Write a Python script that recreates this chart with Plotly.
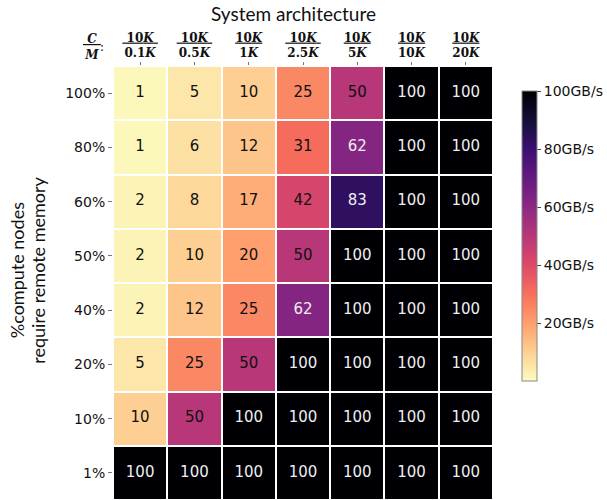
import plotly.graph_objects as go

# ---- data ----
numerators = ["10", "10", "10", "10", "10", "10", "10"]
denominators = ["0.1", "0.5", "1", "2.5", "5", "10", "20"]
row_labels = ["100%", "80%", "60%", "50%", "40%", "20%", "10%", "1%"]
bandwidth = [
    [1, 5, 10, 25, 50, 100, 100],
    [1, 6, 12, 31, 62, 100, 100],
    [2, 8, 17, 42, 83, 100, 100],
    [2, 10, 20, 50, 100, 100, 100],
    [2, 12, 25, 62, 100, 100, 100],
    [5, 25, 50, 100, 100, 100, 100],
    [10, 50, 100, 100, 100, 100, 100],
    [100, 100, 100, 100, 100, 100, 100],
]
cbar_ticks = [20, 40, 60, 80, 100]

# matplotlib "magma" reversed (light -> dark)
magma = ["#000004", "#140e36", "#3b0f70", "#641a80", "#8c2981", "#b73779",
         "#de4968", "#f7705c", "#fe9f6d", "#fecf92", "#fcfdbf"]
magma_r = [[i / 10, c] for i, c in enumerate(reversed(magma))]


def frac_label(num, den):
    top = num + "<i>K</i>"
    bot = den + "<i>K</i>"
    pad = max(0, len(den) - len(num))
    sp = "&nbsp;" * pad
    return f"<b><u>{sp}{top}{sp}</u></b><br><b>{bot}</b>"


col_labels = [frac_label(n, d) for n, d in zip(numerators, denominators)]
col_keys = [f"c{i}" for i in range(len(col_labels))]

fig = go.Figure()
fig.add_trace(go.Heatmap(
    z=bandwidth, x=col_keys, y=row_labels,
    colorscale=magma_r, zmin=0, zmax=100,
    xgap=2, ygap=2, hoverinfo="skip",
    colorbar=dict(
        x=1.076, xanchor="left", xpad=0,
        y=0.608, yanchor="middle", ypad=0,
        len=0.668, lenmode="fraction", thickness=15,
        outlinewidth=1, outlinecolor="#888",
        tickmode="array", tickvals=cbar_ticks,
        ticktext=[f"{v}GB/s" for v in cbar_ticks],
        ticks="outside", ticklen=4, tickcolor="#444",
        tickfont=dict(family="DejaVu Sans", size=14, color="#111"),
    ),
))

# cell text
xs, ys, ts, cs = [], [], [], []
for r, row in enumerate(bandwidth):
    for c, v in enumerate(row):
        xs.append(col_keys[c]); ys.append(row_labels[r]); ts.append(str(v))
        cs.append("#eeeeee" if v > 55 else "#111")
fig.add_trace(go.Scatter(
    x=xs, y=ys, text=ts, mode="text", hoverinfo="skip", showlegend=False,
    textfont=dict(family="DejaVu Sans", size=15, color=cs),
))

fig.update_xaxes(
    side="top", tickvals=col_keys, ticktext=col_labels,
    ticks="outside", ticklen=3, tickcolor="#777",
    tickfont=dict(family="DejaVu Serif", size=12, color="#111"),
    showgrid=False, zeroline=False, showline=False,
)
fig.update_yaxes(
    autorange="reversed", categoryorder="array", categoryarray=row_labels,
    ticks="outside", ticklen=4, tickcolor="#777",
    tickfont=dict(family="DejaVu Sans", size=14, color="#111"),
    showgrid=False, zeroline=False, showline=False,
)

ann = [
    dict(text="System architecture", x=0.476, y=1.12, xref="paper", yref="paper",
         showarrow=False, xanchor="center", yanchor="middle",
         font=dict(family="Lato", size=19, color="#111")),
    dict(text="%compute nodes", x=-0.252, y=0.53, xref="paper", yref="paper",
         showarrow=False, textangle=-90, xanchor="center", yanchor="middle",
         font=dict(family="Lato", size=18, color="#111")),
    dict(text="require remote memory", x=-0.198, y=0.53, xref="paper", yref="paper",
         showarrow=False, textangle=-90, xanchor="center", yanchor="middle",
         font=dict(family="Lato", size=18, color="#111")),
    dict(text="<b><i><u>&nbsp;C&nbsp;</u></i></b><br><b><i>M</i></b>", x=-0.055, y=1.044,
         xref="paper", yref="paper", showarrow=False, xanchor="center", yanchor="middle",
         font=dict(family="DejaVu Serif", size=12, color="#111")),
    dict(text=":", x=-0.028, y=1.044, xref="paper", yref="paper", showarrow=False,
         xanchor="center", yanchor="middle",
         font=dict(family="DejaVu Serif", size=12, color="#111")),
]

fig.update_layout(
    width=607, height=500,
    margin=dict(l=113, r=114, t=66, b=0),
    paper_bgcolor="white", plot_bgcolor="white",
    annotations=ann, showlegend=False,
)

fig.write_html("out.html")
